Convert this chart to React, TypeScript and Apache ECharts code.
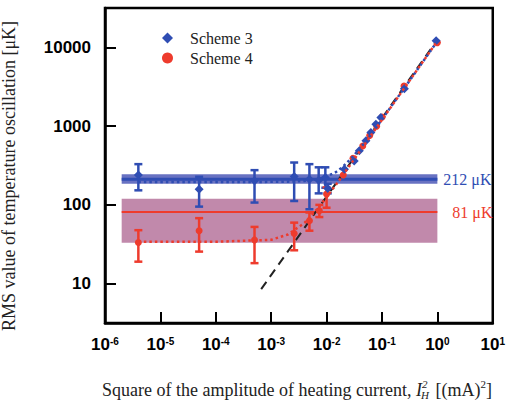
import React, { useEffect, useRef } from 'react';
import * as echarts from 'echarts';

// ---- data ----
const s3X = [4e-6, 5e-5, 5e-4, 2.6e-3, 4.9e-3, 7.2e-3, 9.5e-3, 1.05e-2, 0.021, 0.0315, 0.039, 0.0513, 0.063, 0.0776, 0.0956, 0.254, 0.95];
const s3Y = [240, 158, 202, 229, 212, 205, 222, 162, 284, 362, 485, 650, 830, 1060, 1290, 2985, 12170];
const s3ErrX = [4e-6, 5e-5, 5e-4, 2.6e-3, 4.9e-3, 7.2e-3, 9.5e-3, 1.05e-2];
const s3Low = [153, 95, 107, 112, 88, 140, 165, 140];
const s3High = [329, 227, 276, 345, 329, 300, 300, 185];

const s4X = [4e-6, 5e-5, 5e-4, 2.6e-3, 4.9e-3, 7.4e-3, 1e-2, 0.02, 0.03, 0.045, 0.06, 0.08, 0.1, 0.25, 1.0];
const s4Y = [33.2, 46.8, 35.9, 43.2, 63, 84, 137, 240, 390, 560, 760, 1000, 1300, 3230, 11500];
const s4ErrX = [4e-6, 5e-5, 5e-4, 2.6e-3, 4.9e-3, 7.4e-3, 1e-2];
const s4Low = [19, 25.5, 18.2, 26.5, 47, 70, 92];
const s4High = [47.7, 67.8, 52.5, 59.5, 80, 100, 166];

const fitX = [4e-6, 1e-5, 1e-4, 1e-3, 2e-3, 4e-3, 7e-3, 1e-2, 1.5e-2, 2e-2, 3e-2, 5e-2, 0.1, 0.3, 1];
const fit3Y = [195, 195, 195, 196, 197, 201, 212, 229, 263, 308, 412, 630, 1215, 3606, 12000];
const fit4Y = [34, 34, 34, 36, 42, 59, 91, 125, 183, 242, 362, 600, 1200, 3600, 12000];

const guideX = [6.6e-4, 1];
const guideY = [8.5, 12500];

const levelX = [2e-6, 1];
const level3 = 212;
const band3 = [185, 245];
const level4 = 81;
const band4 = [33, 120];

const legendNames = ['Scheme 3', 'Scheme 4'];

const BLUE = '#2F4DB3';
const RED = '#EE3B2D';
const BLUE_BAND = '#6872C2';
const PURPLE_BAND = '#C189AB';
const SERIF = '"Liberation Serif", "Times New Roman", serif';
const SANS = '"Liberation Sans", Arial, sans-serif';
const INK = '#222';

function errorBars(color: string) {
  return (params: any, api: any) => {
    const x = api.value(0);
    const lo = api.value(1);
    const hi = api.value(2);
    const pLo = api.coord([x, lo]);
    const pHi = api.coord([x, hi]);
    const hw = 4;
    const style = { stroke: color, lineWidth: 2.5 };
    return {
      type: 'group',
      children: [
        { type: 'line', shape: { x1: pLo[0], y1: pLo[1], x2: pHi[0], y2: pHi[1] }, style },
        { type: 'line', shape: { x1: pLo[0] - hw, y1: pLo[1], x2: pLo[0] + hw, y2: pLo[1] }, style },
        { type: 'line', shape: { x1: pHi[0] - hw, y1: pHi[1], x2: pHi[0] + hw, y2: pHi[1] }, style },
      ],
    };
  };
}

function measure(text: string, fontSize: number, italic = false): number {
  const t = new (echarts.graphic as any).Text({
    style: { text, fontSize, fontFamily: SERIF, fontStyle: italic ? 'italic' : 'normal' },
  });
  return t.getBoundingRect().width;
}

function xNameGraphic(cx: number, cy: number) {
  const big = 18;
  const small = 11;
  const p1 = 'Square of the amplitude of heating current, ';
  const p3 = ' [(mA)';
  const p5 = ']';
  const w1 = measure(p1, big);
  const wI = measure('I', big, true);
  const wH = measure('H', small, true);
  const w2 = measure('2', small, true);
  const wSub = Math.max(wH, w2) + 1;
  const w3 = measure(p3, big);
  const w4 = measure('2', small);
  const w5 = measure(p5, big);
  const total = w1 + wI + wSub + w3 + w4 + w5;
  let x = cx - total / 2;
  const items: any[] = [];
  const add = (text: string, size: number, italic: boolean, dx: number, dy: number) => {
    items.push({
      type: 'text', x: x + dx, y: cy + dy,
      style: {
        text, fontSize: size, fontFamily: SERIF, fontStyle: italic ? 'italic' : 'normal',
        fill: INK, align: 'left', verticalAlign: 'middle',
      },
    });
  };
  add(p1, big, false, 0, 0); x += w1;
  add('I', big, true, 0, 0); x += wI;
  add('2', small, true, 0, -6);
  add('H', small, true, -1, 5); x += wSub;
  add(p3, big, false, 0, 0); x += w3;
  add('2', small, false, 0, -6); x += w4;
  add(p5, big, false, 0, 0);
  return items;
}

export default function App() {
  const ref = useRef<HTMLDivElement>(null);
  useEffect(() => {
    if (!ref.current) return;
    const chart = echarts.init(ref.current, undefined, { renderer: 'svg' });
    const option: any = {
      animation: false,
      backgroundColor: '#fff',
      grid: {
        left: 105, right: 14, top: 8, bottom: 82,
        show: true, borderColor: '#000', borderWidth: 2.5, backgroundColor: 'transparent',
      },
      legend: {
        data: legendNames,
        orient: 'vertical',
        left: 162, top: 30,
        padding: 0,
        itemWidth: 11, itemHeight: 11, itemGap: 4,
        formatter: (n: string) => `{t|${n}}`,
        textStyle: {
          color: INK, fontFamily: SERIF, fontSize: 16,
          rich: { t: { fontFamily: SERIF, fontSize: 16, color: INK, padding: [0, 0, 0, 12] } },
        },
      },
      xAxis: {
        type: 'log', logBase: 10, min: 1e-6, max: 10,
        axisLine: { show: true, lineStyle: { color: '#000', width: 2.5 } },
        axisTick: { show: true, inside: true, length: 11, lineStyle: { color: '#000', width: 2 } },
        minorTick: { show: false },
        splitLine: { show: false },
        axisLabel: {
          margin: 13,
          formatter: (v: number) => `{b|10}{s|${Math.round(Math.log10(v))}}`,
          rich: {
            b: { fontFamily: SANS, fontWeight: 'bold', fontSize: 17, color: '#000' },
            s: { fontFamily: SANS, fontWeight: 'bold', fontSize: 10, color: '#000', verticalAlign: 'top' },
          },
        },
      },
      yAxis: {
        type: 'log', logBase: 10, min: Math.pow(10, 0.5), max: Math.pow(10, 4.5),
        axisLine: { show: true, lineStyle: { color: '#000', width: 2.5 } },
        axisTick: { show: true, inside: true, length: 11, lineStyle: { color: '#000', width: 2 } },
        minorTick: { show: false },
        splitLine: { show: false },
        axisLabel: {
          margin: 14, showMinLabel: false, showMaxLabel: false,
          fontFamily: SANS, fontWeight: 'bold', fontSize: 17, color: '#000',
          formatter: (v: number) => String(Math.round(v)),
        },
      },
      graphic: [
        {
          type: 'text', x: 9, y: 176, rotation: Math.PI / 2,
          style: {
            text: 'RMS value of temperature oscillation [μK]',
            fontFamily: SERIF, fontSize: 18, fill: INK, align: 'center', verticalAlign: 'middle',
          },
        },
        ...xNameGraphic(297, 390),
      ],
      series: [
        {
          name: 'band4', type: 'line', z: 1,
          data: levelX.map((x) => [x, level4]),
          symbol: 'none',
          lineStyle: { color: RED, width: 2 },
          markArea: {
            silent: true,
            itemStyle: { color: PURPLE_BAND, opacity: 1 },
            data: [[{ coord: [levelX[0], band4[0]] }, { coord: [levelX[1], band4[1]] }]],
          },
          endLabel: { show: true, formatter: '81 μK', color: RED, fontFamily: SERIF, fontSize: 16, distance: 15 },
        },
        {
          name: 'band3', type: 'line', z: 1,
          data: levelX.map((x) => [x, level3]),
          symbol: 'none',
          lineStyle: { color: BLUE, width: 3 },
          markArea: {
            silent: true,
            itemStyle: { color: BLUE_BAND, opacity: 1 },
            data: [[{ coord: [levelX[0], band3[0]] }, { coord: [levelX[1], band3[1]] }]],
          },
          endLabel: { show: true, formatter: '212 μK', color: BLUE, fontFamily: SERIF, fontSize: 16, distance: 6 },
        },
        {
          name: 'guide', type: 'line', z: 3,
          data: guideX.map((x, i) => [x, guideY[i]]),
          symbol: 'none',
          lineStyle: { color: INK, width: 2, type: [9, 6] },
        },
        {
          name: 'err3', type: 'custom', z: 4,
          renderItem: errorBars(BLUE),
          encode: { x: 0, y: [1, 2] },
          data: s3ErrX.map((x, i) => [x, s3Low[i], s3High[i]]),
        },
        {
          name: 'err4', type: 'custom', z: 4,
          renderItem: errorBars(RED),
          encode: { x: 0, y: [1, 2] },
          data: s4ErrX.map((x, i) => [x, s4Low[i], s4High[i]]),
        },
        {
          name: 'Scheme 4', type: 'scatter', z: 5,
          symbol: 'circle', symbolSize: 7,
          itemStyle: { color: RED, opacity: 1 },
          data: s4X.map((x, i) => [x, s4Y[i]]),
        },
        {
          name: 'Scheme 3', type: 'scatter', z: 5,
          symbol: 'diamond', symbolSize: 9,
          itemStyle: { color: BLUE, opacity: 1 },
          data: s3X.map((x, i) => [x, s3Y[i]]),
        },
        {
          name: 'fit3', type: 'line', z: 6,
          data: fitX.map((x, i) => [x, fit3Y[i]]),
          symbol: 'none',
          lineStyle: { color: BLUE, width: 2.5, type: [2.5, 3] },
        },
        {
          name: 'fit4', type: 'line', z: 6,
          data: fitX.map((x, i) => [x, fit4Y[i]]),
          symbol: 'none',
          lineStyle: { color: RED, width: 2.5, type: [2.5, 3] },
        },
      ],
    };
    chart.setOption(option);
    return () => chart.dispose();
  }, []);
  return <div ref={ref} style={{ position: 'absolute', left: 0, top: 0, width: 508, height: 405 }} />;
}
